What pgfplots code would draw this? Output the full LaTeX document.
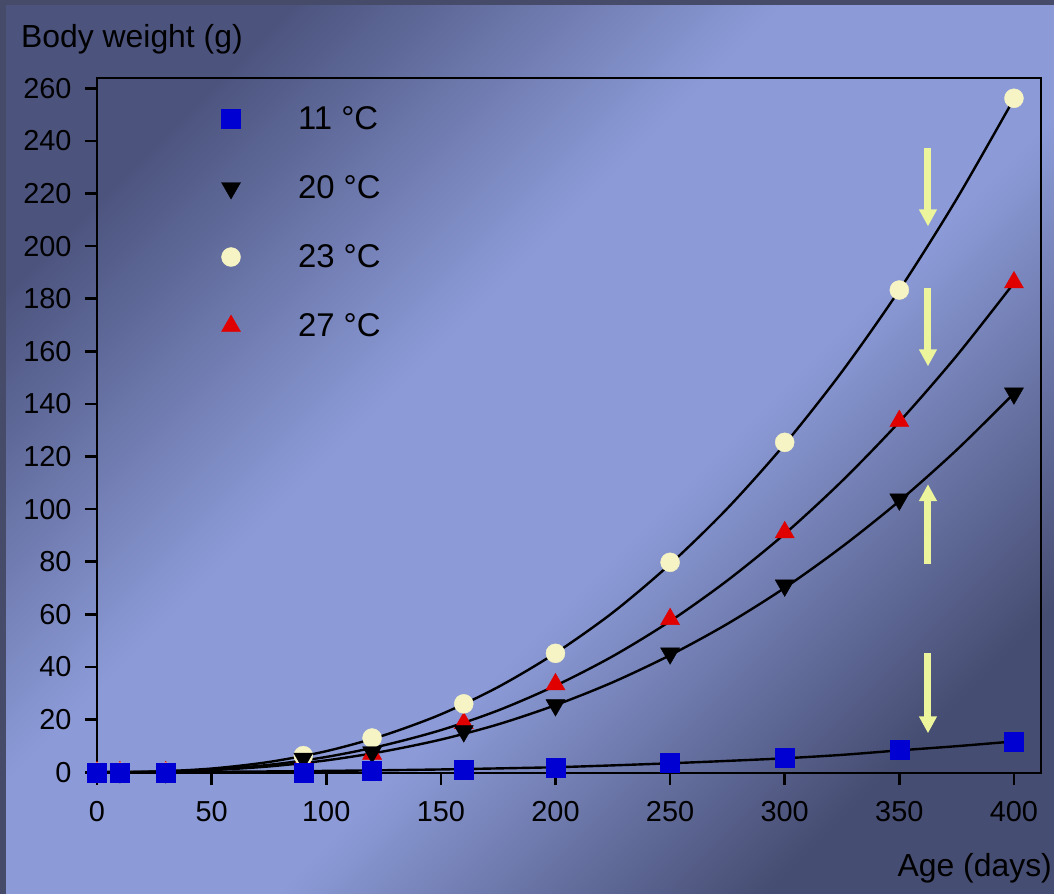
\documentclass[border=0pt]{standalone}
\usepackage{pgfplots}
\usepackage{pgfplotstable}
\pgfplotsset{compat=1.18}
\usepackage{fontspec}
\setmainfont{Liberation Sans}
\usetikzlibrary{arrows.meta}

\definecolor{bgframe}{RGB}{70,75,105}
\definecolor{bgdark}{RGB}{76,84,126}
\definecolor{bglight}{RGB}{140,155,216}
\definecolor{bgdark2}{RGB}{70,77,114}
\definecolor{sqblue}{RGB}{0,0,210}
\definecolor{trired}{RGB}{225,0,0}
\definecolor{pearl}{RGB}{246,244,196}
\definecolor{arrowyel}{RGB}{236,245,155}

\pgfdeclareverticalshading{bgshade}{100bp}{color(0bp)=(bgdark2); color(25bp)=(bgdark2);
  color(43bp)=(bglight); color(57bp)=(bglight); color(75bp)=(bgdark); color(100bp)=(bgdark)}

% measured points
\pgfplotstableread{
x y
0 0
10 0
30 0
90 -0.3
120 0.7
160 0.8
200 1.9
250 3.8
300 5.7
350 8.7
400 11.7
}\dataA
\pgfplotstableread{
x y
0 0
10 0
30 0
90 5.2
120 7.6
160 15.6
200 25.5
250 45.2
300 71
350 103.7
400 144
}\dataB
\pgfplotstableread{
x y
0 0
10 0
30 0
90 6.3
120 13
160 26
200 45.2
250 79.8
300 125.4
350 183.3
400 256.2
}\dataC
\pgfplotstableread{
x y
0 0
10 0
30 0
90 4.5
120 7
160 18.6
200 33.4
250 58.2
300 91.2
350 133.5
400 186.2
}\dataD

% fitted curves
\pgfplotstableread{
x a b c d
0 0 0 0 0
25 0.05 0.14 0.25 0.18
50 0.15 0.8 1.4 1.0
75 0.3 2.2 3.9 2.8
100 0.5 4.5 8.0 5.8
125 0.75 7.9 14.0 10.2
150 1.05 12.4 22.0 16.0
175 1.45 18.2 32.4 23.5
200 1.9 25.5 45.3 32.9
225 2.6 34.2 60.7 44.1
250 3.4 44.5 79.1 57.4
275 4.3 56.4 100.3 72.9
300 5.3 70.1 124.7 90.6
325 6.6 85.7 152.3 110.7
350 8.3 103.1 183.3 133.2
375 9.9 122.5 217.9 158.3
400 11.7 144 256 186
}\fits

\begin{document}
\begin{tikzpicture}
\useasboundingbox (0,0) rectangle (1054bp,-894bp);
\fill[bgframe] (0,0) rectangle (1054bp,-894bp);
\shade[shading=bgshade, shading angle=45] (6bp,-5bp) rectangle (1054bp,-894bp);
\begin{axis}[
  at={(97bp,-773bp)}, anchor=south west,
  scale only axis, width=944bp, height=695bp,
  xmin=0, xmax=411.8, ymin=-0.3, ymax=263.9,
  clip=false,
  axis line style={line width=2.6bp, black},
  xtick={0,50,...,400}, ytick={0,20,...,260},
  xtick pos=bottom, ytick pos=left,
  tick align=outside, major tick length=12bp,
  every tick/.style={line width=2.6bp, black},
  /pgf/number format/assume math mode=true,
  ticklabel style={font=\fontsize{29}{29}\selectfont},
  yticklabel style={xshift=-10bp},
  xticklabel style={yshift=-13bp},
  every axis x label/.style={at={(axis description cs:1.0117,-0.1496)}, anchor=base east, inner sep=0pt, font=\fontsize{32}{32}\selectfont},
  every axis y label/.style={at={(axis description cs:-0.0805,1.0432)}, anchor=base west, inner sep=0pt, font=\fontsize{32}{32}\selectfont},
  xlabel={Age (days)},
  ylabel={Body weight (g)},
  legend image code/.code={\path[draw=none, fill=none] (-10bp,-34.5bp) rectangle (67bp,34.5bp); \draw plot coordinates {(0bp,0bp)};},
  legend style={at={(axis description cs:0.1314,0.9906)}, anchor=north west,
    draw=none, fill=none, inner sep=0pt, outer sep=0pt, row sep=0pt, column sep=0pt,
    nodes={inner sep=0pt}, font=\fontsize{33}{33}\selectfont},
  legend cell align=left,
]
\addlegendimage{only marks, mark=square*, mark size=9.5bp, sqblue}
\addlegendentry{11 °C}
\addlegendimage{only marks, mark=triangle*, mark size=11bp, mark options={rotate=180}, black}
\addlegendentry{20 °C}
\addlegendimage{only marks, mark=*, mark size=9.5bp, pearl}
\addlegendentry{23 °C}
\addlegendimage{only marks, mark=triangle*, mark size=11bp, trired}
\addlegendentry{27 °C}

\addplot[forget plot, only marks, mark=triangle*, mark size=11bp, trired] table[x=x,y=y] {\dataD};
\addplot[forget plot, only marks, mark=*, mark size=9.5bp, pearl] table[x=x,y=y] {\dataC};
\addplot[forget plot, only marks, mark=triangle*, mark size=11bp, mark options={rotate=180}, black] table[x=x,y=y] {\dataB};
\addplot[forget plot, only marks, mark=square*, mark size=9.5bp, sqblue] table[x=x,y=y] {\dataA};

\addplot[forget plot, no marks, smooth, black, line width=2.4bp] table[x=x,y=a] {\fits};
\addplot[forget plot, no marks, smooth, black, line width=2.4bp] table[x=x,y=b] {\fits};
\addplot[forget plot, no marks, smooth, black, line width=2.4bp] table[x=x,y=c] {\fits};
\addplot[forget plot, no marks, smooth, black, line width=2.4bp] table[x=x,y=d] {\fits};

\draw[arrowyel, line width=7bp, -{Triangle[width=17bp,length=17bp]}] (axis cs:362.5,237.2) -- (axis cs:362.5,207.5);
\draw[arrowyel, line width=7bp, -{Triangle[width=17bp,length=17bp]}] (axis cs:362.5,184) -- (axis cs:362.5,154.3);
\draw[arrowyel, line width=7bp, -{Triangle[width=17bp,length=17bp]}] (axis cs:362.5,79) -- (axis cs:362.5,109.5);
\draw[arrowyel, line width=7bp, -{Triangle[width=17bp,length=17bp]}] (axis cs:362.5,45.2) -- (axis cs:362.5,14.8);
\end{axis}
\end{tikzpicture}
\end{document}
